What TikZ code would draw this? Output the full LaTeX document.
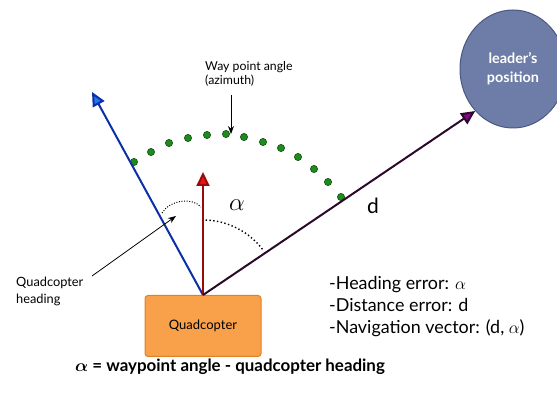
\documentclass[tikz,border=0pt]{standalone}
\usepackage{bm}
\usepackage{fontspec}
\setmainfont{Lato}
\usetikzlibrary{arrows.meta,shapes.geometric,calc}
\definecolor{blueline}{HTML}{0B2FA8}
\definecolor{bluehead}{HTML}{2277EE}
\definecolor{redline}{HTML}{9B0A0A}
\definecolor{redhead}{HTML}{EE1111}
\definecolor{purpleline}{HTML}{2A0A2A}
\definecolor{purplehead}{HTML}{8B008B}
\definecolor{dotfill}{HTML}{1E8B1E}
\definecolor{dotdraw}{HTML}{0E4E0E}
\definecolor{quadfill}{HTML}{F9A04B}
\definecolor{quaddraw}{HTML}{E08028}
\definecolor{leadfill}{HTML}{6E7DA8}
\definecolor{leaddraw}{HTML}{4A5880}
\tikzset{
  quadbox/.style={rectangle, rounded corners=3pt, fill=quadfill, draw=quaddraw, line width=1pt,
    minimum width=116pt, minimum height=61pt, inner sep=0pt, font=\fontsize{13}{15}\selectfont},
  leadnode/.style={ellipse, minimum width=106pt, minimum height=118pt, inner sep=0pt, fill=leadfill,
    draw=leaddraw, line width=1pt, text=white, align=center, font=\bfseries\fontsize{14.4}{19}\selectfont},
  vec/.style={line width=2pt},
  gdot/.style={fill=dotfill, draw=dotdraw, line width=0.6pt},
  angarc/.style={line width=1.4pt, dash pattern=on 1.4pt off 2.4pt},
  smallarc/.style={line width=1pt, dash pattern=on 1pt off 1.6pt},
  pointer/.style={line width=0.8pt, -{Stealth[length=8pt,width=6pt]}},
  lbl/.style={inner sep=0pt, align=left}
}
\begin{document}
\begin{tikzpicture}[x=1pt,y=-1pt]
\useasboundingbox (0,0) rectangle (557,403);
% nodes
\node[quadbox] (quad) at (203,326) {Quadcopter};
\node[leadnode] (leader) at (513,69) {leader's\\position};
\coordinate (O) at (quad.north);
\coordinate (bt) at (92,92);
\coordinate (rt) at (203,172);
% green dotted azimuth arc
\foreach \p in {(134,162),(151,152),(169,143),(188,138),(207,135),(226,134),(244,137),(263,142),(281,148),(298,157),(314,169),(328,182),(341,197)}
  \draw[gdot] \p circle (3.6pt);
% vectors
\draw[vec, blueline, -{Triangle[length=14pt,width=13pt,fill=bluehead]}] (O) -- (bt);
\draw[vec, redline, -{Triangle[length=14pt,width=13pt,fill=redhead]}] (O) -- (rt);
\draw[vec, purpleline, -{Triangle[length=14pt,width=13pt,fill=purplehead]}] (O) -- (leader.228);
% angle arcs
\draw[angarc] ($(O)+(-88:75)$) arc (-88:-37:75);
\draw[smallarc] (162,213) .. controls (170,200) and (192,197) .. (201,207);
% labels
\node[font=\fontsize{26}{26}\selectfont] (alpha) at (237,205) {$\alpha$};
\node[font=\fontsize{21}{21}\selectfont, anchor=base] (dlab) at (373,214) {d};
\node[lbl, anchor=north west, font=\fontsize{12.3}{14.5}\selectfont] (wp) at (205,61) {Way point angle\\(azimuth)};
\coordinate (wps) at (231,95);
\coordinate (wpt) at (231,134);
\draw[pointer] (wps) -- (wpt);
\node[lbl, anchor=north west, font=\fontsize{12.8}{17}\selectfont] (qh) at (16,276.5) {Quadcopter\\heading};
\coordinate (qhs) at (92,276);
\coordinate (qht) at (176,216);
\draw[pointer] (qhs) -- (qht);
\node[lbl, anchor=north west, font=\fontsize{17.9}{21.7}\selectfont] (errs) at (329,276.5) {-Heading error: $\alpha$\\-Distance error: d\\-Navigation vector: (d, $\alpha$)};
\node[inner sep=0pt, anchor=base west, font=\bfseries\fontsize{16.9}{19}\selectfont] (eq) at (75,371) {$\bm{\alpha}$ = waypoint angle - quadcopter heading};
\end{tikzpicture}
\end{document}
